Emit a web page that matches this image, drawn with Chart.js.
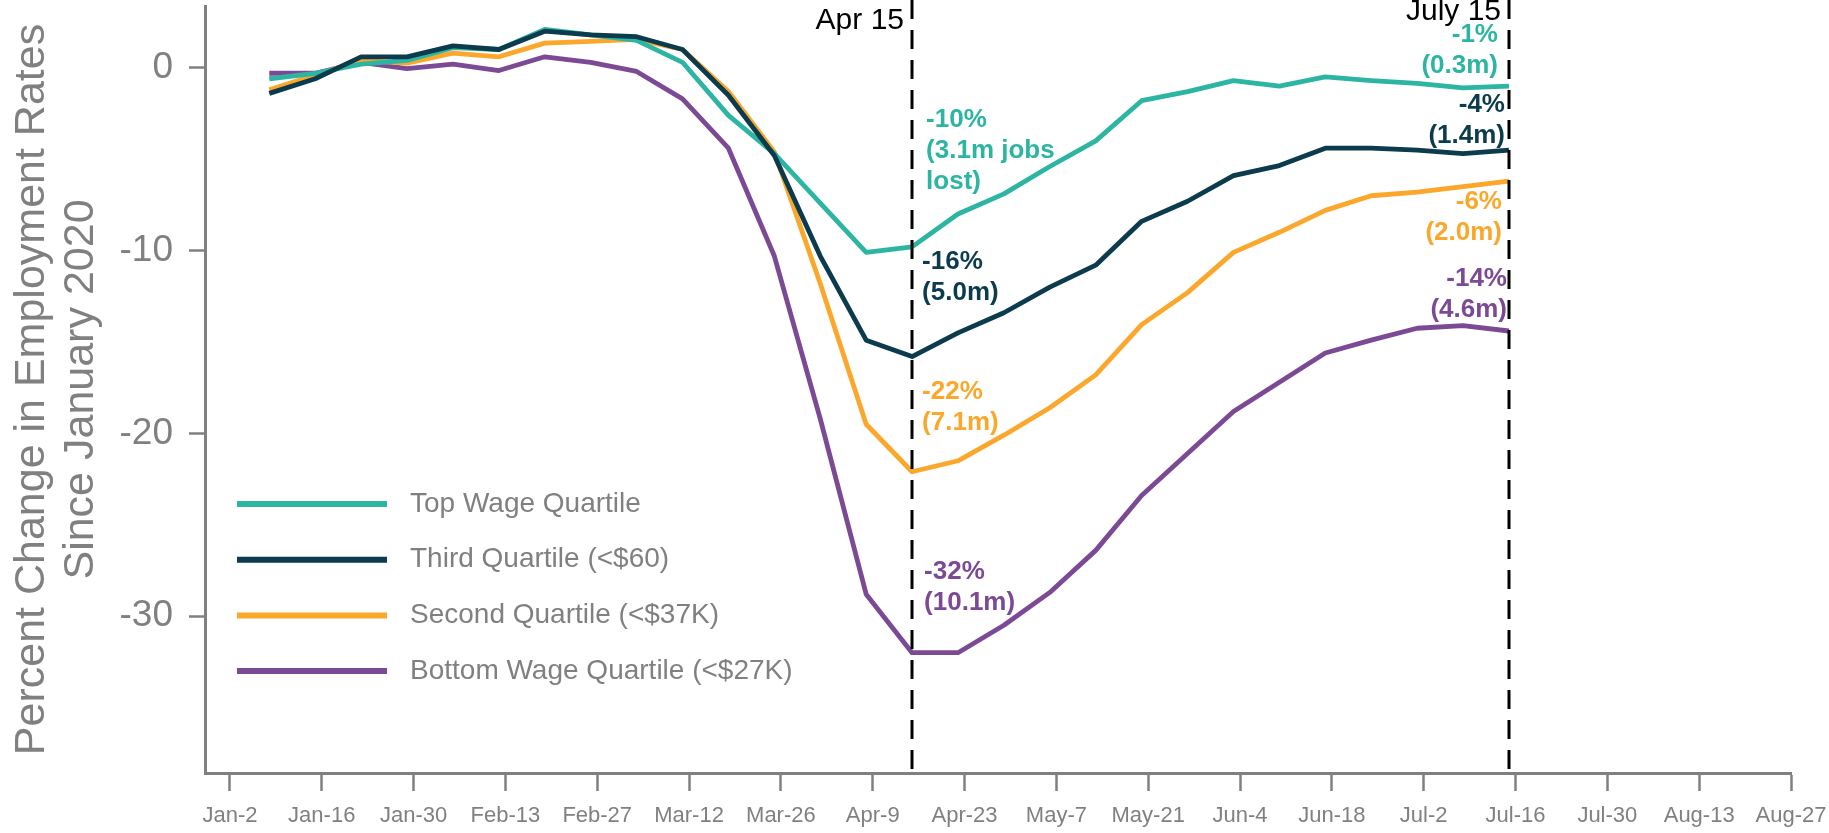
<!DOCTYPE html>
<html>
<head>
<meta charset="utf-8">
<script src="https://cdn.jsdelivr.net/npm/chart.js@4.4.1/dist/chart.umd.min.js"></script>
<style>
    html, body { margin: 0; padding: 0; background: #fff; }
</style>
</head>
<body>
<canvas id="employmentChart" width="1829" height="833"></canvas>
<script>
// Weekly observations, 2020
const weekDates = [
    '2020-01-08', '2020-01-15', '2020-01-22', '2020-01-29', '2020-02-05', '2020-02-12', '2020-02-19',
    '2020-02-26', '2020-03-04', '2020-03-11', '2020-03-18', '2020-03-25', '2020-04-01', '2020-04-08',
    '2020-04-15', '2020-04-22', '2020-04-29', '2020-05-06', '2020-05-13', '2020-05-20', '2020-05-27',
    '2020-06-03', '2020-06-10', '2020-06-17', '2020-06-24', '2020-07-01', '2020-07-08', '2020-07-15'
];

// Percent change in employment since January 2020
const topQuartile = [-0.6, -0.3, 0.2, 0.4, 1.1, 1.0, 2.1, 1.8, 1.5, 0.3, -2.6, -4.7, -7.4, -10.1,
    -9.8, -8.0, -6.9, -5.4, -4.0, -1.8, -1.3, -0.7, -1.0, -0.5, -0.7, -0.85, -1.1, -1.0];
const thirdQuartile = [-1.4, -0.6, 0.6, 0.6, 1.2, 1.0, 2.0, 1.8, 1.7, 1.0, -1.5, -4.8, -10.3, -14.9,
    -15.8, -14.5, -13.4, -12.0, -10.8, -8.4, -7.3, -5.9, -5.35, -4.4, -4.4, -4.5, -4.7, -4.5];
const secondQuartile = [-1.2, -0.4, 0.4, 0.25, 0.8, 0.6, 1.35, 1.45, 1.55, 1.0, -1.3, -4.6, -11.8, -19.5,
    -22.1, -21.5, -20.1, -18.6, -16.8, -14.05, -12.3, -10.1, -9.0, -7.8, -7.0, -6.8, -6.5, -6.2];
const bottomQuartile = [-0.3, -0.3, 0.3, -0.05, 0.2, -0.15, 0.6, 0.3, -0.2, -1.7, -4.4, -10.3, -19.2, -28.8,
    -32.0, -32.0, -30.5, -28.7, -26.4, -23.4, -21.1, -18.8, -17.2, -15.6, -14.9, -14.25, -14.1, -14.4];

const seriesLabels = ['Top Wage Quartile', 'Third Quartile (<$60)', 'Second Quartile (<$37K)', 'Bottom Wage Quartile (<$27K)'];
const seriesColors = ['#2cb5a2', '#0b3b4d', '#fba72b', '#7c4a95'];

// Axis ticks
const xTickLabels = ['Jan-2', 'Jan-16', 'Jan-30', 'Feb-13', 'Feb-27', 'Mar-12', 'Mar-26', 'Apr-9', 'Apr-23',
    'May-7', 'May-21', 'Jun-4', 'Jun-18', 'Jul-2', 'Jul-16', 'Jul-30', 'Aug-13', 'Aug-27'];
const yTickValues = [-30, -20, -10, 0];

// Reference dates
const markerDates = ['2020-04-15', '2020-07-15'];
const markerLabels = ['Apr 15', 'July 15'];

// Callouts (series index, anchor date/value, text)
const callouts = [
    { series: 0, date: '2020-04-15', value: -2.86, align: 'left', dx: 14, lines: ['-10%', '(3.1m jobs', 'lost)'] },
    { series: 1, date: '2020-04-15', value: -10.62, align: 'left', dx: 10, lines: ['-16%', '(5.0m)'] },
    { series: 2, date: '2020-04-15', value: -17.74, align: 'left', dx: 10, lines: ['-22%', '(7.1m)'] },
    { series: 3, date: '2020-04-15', value: -27.58, align: 'left', dx: 12, lines: ['-32%', '(10.1m)'] },
    { series: 0, date: '2020-07-15', value: 1.79, align: 'right', dx: -11, lines: ['-1%', '(0.3m)'] },
    { series: 1, date: '2020-07-15', value: -2.04, align: 'right', dx: -4, lines: ['-4%', '(1.4m)'] },
    { series: 2, date: '2020-07-15', value: -7.34, align: 'right', dx: -7, lines: ['-6%', '(2.0m)'] },
    { series: 3, date: '2020-07-15', value: -11.55, align: 'right', dx: -2, lines: ['-14%', '(4.6m)'] }
];

const FONT = "'Liberation Sans', Arial, Helvetica, sans-serif";
const GREY = '#808080';
const origin = Date.UTC(2020, 0, 2);
const dayOf = s => (Date.parse(s) - origin) / 86400000;

function toPoints(values) {
    return values.map((v, i) => ({ x: dayOf(weekDates[i]), y: v }));
}

const seriesValues = [topQuartile, thirdQuartile, secondQuartile, bottomQuartile];
const drawOrder = [1, 0, 2, 3];

// Dashed reference lines with labels
const markerPlugin = {
    id: 'markers',
    afterDatasetsDraw(chart) {
        const { ctx, chartArea, scales: { x } } = chart;
        ctx.save();
        markerDates.forEach((d, i) => {
            const px = Math.round(x.getPixelForValue(dayOf(d)));
            ctx.strokeStyle = '#000';
            ctx.lineWidth = 3;
            ctx.setLineDash([19, 11]);
            ctx.beginPath();
            ctx.moveTo(px, 0);
            ctx.lineTo(px, chartArea.bottom);
            ctx.stroke();
            ctx.setLineDash([]);
            ctx.fillStyle = '#000';
            ctx.font = '30px ' + FONT;
            ctx.textAlign = 'right';
            ctx.textBaseline = 'middle';
            ctx.fillText(markerLabels[i], px - 8, i === 0 ? 21 : 12);
        });
        ctx.restore();
    }
};

// Value callouts
const calloutPlugin = {
    id: 'callouts',
    afterDraw(chart) {
        const { ctx, scales: { x, y } } = chart;
        ctx.save();
        ctx.font = 'bold 26px ' + FONT;
        ctx.textBaseline = 'middle';
        callouts.forEach(c => {
            const px = x.getPixelForValue(dayOf(c.date)) + c.dx;
            const py = y.getPixelForValue(c.value);
            ctx.fillStyle = seriesColors[c.series];
            ctx.textAlign = c.align;
            c.lines.forEach((t, j) => ctx.fillText(t, px, py + j * 31));
        });
        ctx.restore();
    }
};

// Legend drawn inside the plot area
const legendPlugin = {
    id: 'insideLegend',
    afterDraw(chart) {
        const { ctx, chartArea } = chart;
        const x0 = chartArea.left + 32;
        const y0 = 504;
        ctx.save();
        ctx.font = '28px ' + FONT;
        ctx.textAlign = 'left';
        ctx.textBaseline = 'middle';
        seriesLabels.forEach((label, i) => {
            const yy = y0 + i * 55.7;
            ctx.strokeStyle = seriesColors[i];
            ctx.lineWidth = 6;
            ctx.beginPath();
            ctx.moveTo(x0, yy);
            ctx.lineTo(x0 + 150, yy);
            ctx.stroke();
            ctx.fillStyle = GREY;
            ctx.fillText(label, x0 + 173, yy);
        });
        ctx.restore();
    }
};

new Chart(document.getElementById('employmentChart'), {
    type: 'line',
    data: {
        datasets: seriesLabels.map((label, i) => ({
            label: label,
            data: toPoints(seriesValues[i]),
            borderColor: seriesColors[i],
            backgroundColor: seriesColors[i],
            borderWidth: 4.8,
            pointRadius: 0,
            tension: 0,
            borderJoinStyle: 'round',
            order: drawOrder[i]
        }))
    },
    options: {
        responsive: false,
        devicePixelRatio: 1,
        animation: false,
        layout: { padding: { top: 6, right: 38, left: 0, bottom: 0 } },
        plugins: {
            legend: { display: false },
            tooltip: { enabled: false }
        },
        scales: {
            x: {
                type: 'linear',
                min: -3.8,
                max: 238,
                afterBuildTicks: s => { s.ticks = xTickLabels.map((_, i) => ({ value: i * 14 })); },
                afterFit: s => {
                    s.height = 60;
                    s.paddingLeft = 0; s.paddingRight = 0;
                },
                ticks: {
                    autoSkip: false,
                    maxRotation: 0,
                    padding: 12,
                    color: GREY,
                    font: { family: FONT, size: 22 },
                    callback: (v, i) => xTickLabels[i]
                },
                grid: { drawOnChartArea: false, drawTicks: true, tickLength: 18, tickColor: GREY, tickWidth: 2.5 },
                border: { display: true, color: GREY, width: 3 }
            },
            y: {
                min: -38.58,
                max: 3.38,
                afterBuildTicks: s => { s.ticks = yTickValues.map(v => ({ value: v })); },
                afterFit: s => {
                    s.width = 205;
                    s.paddingTop = 0; s.paddingBottom = 0;
                },
                ticks: {
                    padding: 16,
                    color: GREY,
                    font: { family: FONT, size: 37 },
                    callback: v => String(v)
                },
                grid: { drawOnChartArea: false, drawTicks: true, tickLength: 16, tickColor: GREY, tickWidth: 2.5 },
                border: { display: true, color: GREY, width: 3 },
                title: {
                    display: true,
                    text: ['Percent Change in Employment Rates', 'Since January 2020'],
                    color: GREY,
                    font: { family: FONT, size: 43, lineHeight: 1.15 },
                    padding: { top: 7, bottom: 0 }
                }
            }
        }
    },
    plugins: [markerPlugin, calloutPlugin, legendPlugin]
});
</script>
</body>
</html>
